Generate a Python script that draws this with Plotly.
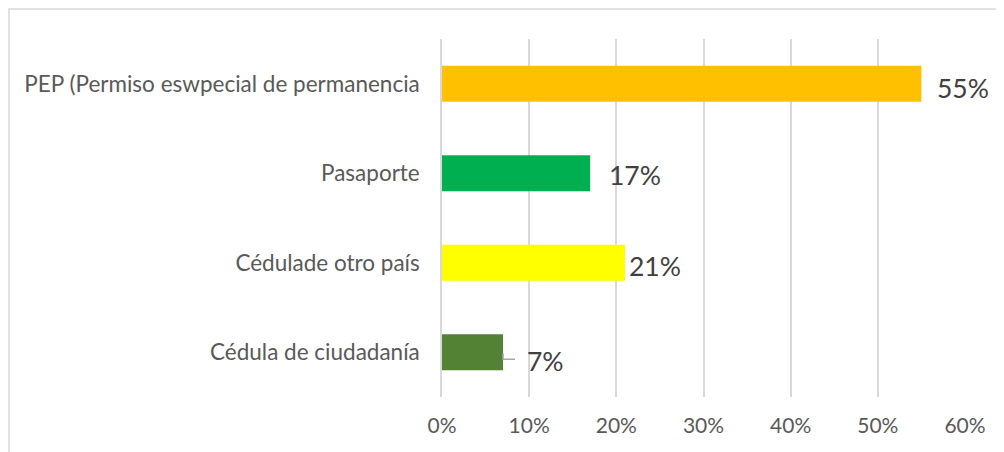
import plotly.graph_objects as go

categories = ["Cédula de ciudadanía", "Cédulade otro país", "Pasaporte", "PEP (Permiso eswpecial de permanencia"]
values = [7, 21, 17, 55]
bar_colors = ["#548235", "#FFFF00", "#00B050", "#FFC000"]
tick_vals = [0, 10, 20, 30, 40, 50, 60]
tick_text = ["0%", "10%", "20%", "30%", "40%", "50%", "60%"]

# label placement offsets (px) mimicking the manually positioned labels
label_xshift = [22, 2, 17, 14]
label_yshift = [-9, -3, -2, -4]

FONT = "Lato, Carlito, Calibri, sans-serif"

fig = go.Figure()
fig.add_trace(go.Bar(
    y=categories, x=values, orientation="h",
    marker=dict(color=bar_colors, line=dict(width=0)),
    width=0.4, hoverinfo="skip",
))

for c, v, xs, ys in zip(categories, values, label_xshift, label_yshift):
    fig.add_annotation(
        x=v, y=c, xref="x", yref="y", text=f"{v}%", showarrow=False,
        xanchor="left", yanchor="middle", xshift=xs, yshift=ys,
        font=dict(family=FONT, size=26.5, color="#404040"),
    )

# leader line for the small label (Cédula de ciudadanía)
v0 = values[0]
c0 = categories[0]
fig.add_shape(type="path", xref="x", yref="y", xsizemode="pixel", ysizemode="pixel",
              xanchor=v0, yanchor=c0,
              path="M 0,-1 L 0,-7 L 12,-7",
              line=dict(color="#A6A6A6", width=1.5))

ML, MR, MT, MB = 434, 47, 31, 63
W, H = 1004, 452
pw, ph = W - ML - MR, H - MT - MB

# chart border
fig.add_shape(type="rect", xref="paper", yref="paper",
              x0=(1 - ML) / pw, x1=1 + (MR + 20) / pw,
              y0=-(MB + 20) / ph, y1=1 + (MT - 1) / ph,
              line=dict(color="#D9D9D9", width=1.5), layer="below")

fig.update_layout(
    width=W, height=H,
    margin=dict(l=ML, r=MR, t=MT, b=MB),
    paper_bgcolor="white", plot_bgcolor="white",
    showlegend=False,
    bargap=0.6,
    font=dict(family=FONT, color="#595959"),
    xaxis=dict(
        range=[0, 60], tickvals=tick_vals, ticktext=tick_text,
        showgrid=True, gridcolor="#D9D9D9", gridwidth=1.5,
        zeroline=False, showline=False,
        tickfont=dict(family=FONT, size=21, color="#595959"),
        ticks="", ticklabelstandoff=14, fixedrange=True,
    ),
    yaxis=dict(
        showgrid=False, zeroline=False,
        showline=True, linecolor="#D9D9D9", linewidth=1.5,
        tickfont=dict(family=FONT, size=22.5, color="#595959"),
        ticks="", ticklabelstandoff=16, fixedrange=True,
    ),
)

fig.write_html("out.html")
